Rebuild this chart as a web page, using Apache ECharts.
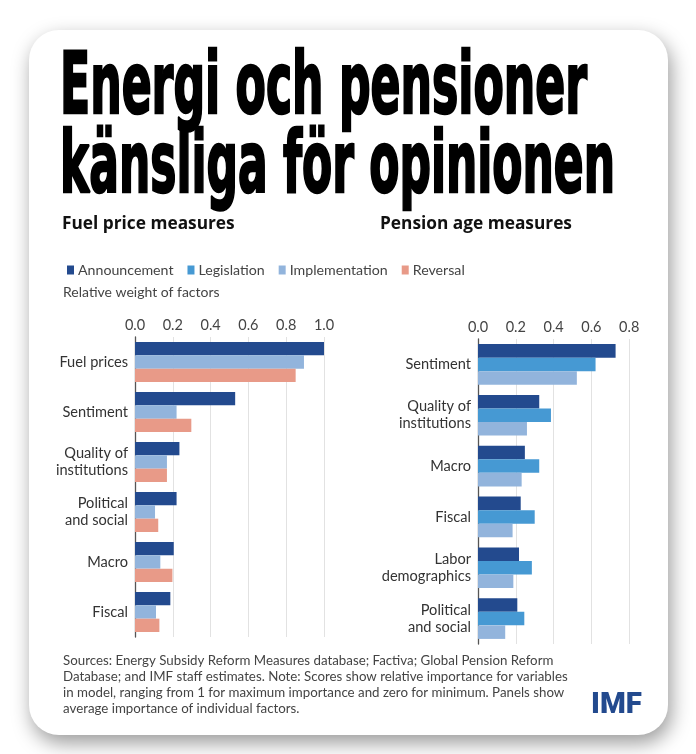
<!DOCTYPE html>
<html>
<head>
<meta charset="utf-8">
<script src="https://cdn.jsdelivr.net/npm/echarts@6/dist/echarts.min.js"></script>
<style>
html,body{margin:0;padding:0;background:#ffffff;}
#chart{width:696px;height:754px;}
</style>
</head>
<body>
<div id="chart"></div>
<script>
// ---- Data ----
const fuelCategories = ['Fuel prices', 'Sentiment', 'Quality of\ninstitutions', 'Political\nand social', 'Macro', 'Fiscal'];
const fuelAnnouncement = [1.00, 0.53, 0.235, 0.22, 0.205, 0.187];
const fuelImplementation = [0.894, 0.22, 0.169, 0.106, 0.134, 0.111];
const fuelReversal = [0.85, 0.298, 0.169, 0.123, 0.198, 0.129];

const pensionCategories = ['Sentiment', 'Quality of\ninstitutions', 'Macro', 'Fiscal', 'Labor\ndemographics', 'Political\nand social'];
const pensionAnnouncement = [0.728, 0.324, 0.248, 0.226, 0.217, 0.208];
const pensionLegislation = [0.622, 0.386, 0.324, 0.30, 0.285, 0.245];
const pensionImplementation = [0.523, 0.259, 0.231, 0.183, 0.187, 0.144];

const legendNames = ['Announcement', 'Legislation', 'Implementation', 'Reversal'];
const fuelTicks = [0, 0.2, 0.4, 0.6, 0.8, 1.0];
const pensionTicks = [0, 0.2, 0.4, 0.6, 0.8];

const titleLines = ['Energi och pensioner', 'känsliga för opinionen'];
const panelTitles = ['Fuel price measures', 'Pension age measures'];
const unitLabel = 'Relative weight of factors';
const footerText = 'Sources: Energy Subsidy Reform Measures database; Factiva; Global Pension Reform\nDatabase; and IMF staff estimates. Note: Scores show relative importance for variables\nin model, ranging from 1 for maximum importance and zero for minimum. Panels show\naverage importance of individual factors.';

// ---- Styles ----
const COLORS = {
  Announcement: '#234a8e',
  Legislation: '#4699d3',
  Implementation: '#92b4dc',
  Reversal: '#e89a88'
};
const TITLE_FONT = "'DejaVu Sans Condensed', 'DejaVu Sans', sans-serif";
const BODY_FONT = "Lato, 'Open Sans', sans-serif";
const HEAD_FONT = "'Open Sans', Lato, sans-serif";

function fitScale(text, fontSize, target) {
  const c = document.createElement('canvas').getContext('2d');
  c.font = 'bold ' + fontSize + 'px ' + TITLE_FONT;
  return target / c.measureText(text).width;
}
const TITLE_SIZE = 86;
const s1 = fitScale(titleLines[0], TITLE_SIZE, 527);
const s2 = fitScale(titleLines[1], TITLE_SIZE, 555);

const chart = echarts.init(document.getElementById('chart'), null, {renderer: 'canvas'});

function bar(name, data, idx) {
  return {
    type: 'bar', name: name, data: data,
    xAxisIndex: idx, yAxisIndex: idx,
    barGap: '0%', barCategoryGap: '20%',
    itemStyle: {color: COLORS[name]},
    emphasis: {disabled: true},
    z: 5
  };
}

const valueAxisCommon = {
  type: 'value', position: 'top', min: 0, interval: 0.2,
  axisLine: {show: false}, axisTick: {show: false},
  splitLine: {show: true, lineStyle: {color: '#e2e2e2', width: 1}},
  axisLabel: {color: '#444', fontSize: 14.5, fontFamily: BODY_FONT, margin: 4,
    formatter: v => v.toFixed(1)}
};
const catAxisCommon = {
  type: 'category', inverse: true,
  axisLine: {show: true, lineStyle: {color: '#555', width: 1.3}},
  axisTick: {show: false},
  axisLabel: {color: '#333', fontSize: 14.6, fontFamily: BODY_FONT, margin: 7, lineHeight: 17, align: 'right'}
};

const option = {
  animation: false,
  backgroundColor: '#ffffff',
  graphic: [
    {type: 'rect', z: -10, shape: {x: 29, y: 30, width: 639, height: 705, r: 30},
      style: {fill: '#ffffff', shadowBlur: 20, shadowColor: 'rgba(0,0,0,0.4)', shadowOffsetX: 3, shadowOffsetY: 8}},
    {type: 'text', x: 60, y: 91, scaleX: s1, style: {text: titleLines[0], font: 'bold ' + TITLE_SIZE + 'px ' + TITLE_FONT,
      fill: '#000', stroke: '#000', lineWidth: 2.5, verticalAlign: 'middle'}},
    {type: 'text', x: 60, y: 170, scaleX: s2, style: {text: titleLines[1], font: 'bold ' + TITLE_SIZE + 'px ' + TITLE_FONT,
      fill: '#000', stroke: '#000', lineWidth: 2.5, verticalAlign: 'middle'}},
    {type: 'text', x: 62, y: 224, style: {text: panelTitles[0], font: 'bold 17.3px ' + HEAD_FONT, fill: '#111', verticalAlign: 'middle'}},
    {type: 'text', x: 380, y: 224, style: {text: panelTitles[1], font: 'bold 17.3px ' + HEAD_FONT, fill: '#111', verticalAlign: 'middle'}},
    {type: 'text', x: 63, y: 292, style: {text: unitLabel, font: '14px ' + BODY_FONT, fill: '#444', verticalAlign: 'middle'}},
    {type: 'text', x: 63, y: 653, style: {text: footerText, font: '13.3px ' + BODY_FONT, fill: '#444', lineHeight: 16, verticalAlign: 'top'}},
    {type: 'text', x: 591, y: 706, style: {text: 'IMF', font: '900 29.5px Roboto, "Liberation Sans", sans-serif', fill: '#234a8e', verticalAlign: 'middle'}}
  ],
  legend: {
    left: 62, top: 258,
    data: legendNames,
    icon: 'rect', itemWidth: 7, itemHeight: 9, itemGap: 14,
    selectedMode: false,
    textStyle: {color: '#444', fontSize: 14.2, fontFamily: BODY_FONT, padding: [0, 0, 0, -1]}
  },
  grid: [
    {left: 135, top: 337, width: 189, height: 300},
    {left: 478, top: 339, width: 151.2, height: 305}
  ],
  xAxis: [
    Object.assign({}, valueAxisCommon, {gridIndex: 0, max: 1.0}),
    Object.assign({}, valueAxisCommon, {gridIndex: 1, max: 0.8})
  ],
  yAxis: [
    Object.assign({}, catAxisCommon, {gridIndex: 0, data: fuelCategories}),
    Object.assign({}, catAxisCommon, {gridIndex: 1, data: pensionCategories})
  ],
  series: [
    bar('Announcement', fuelAnnouncement, 0),
    bar('Implementation', fuelImplementation, 0),
    bar('Reversal', fuelReversal, 0),
    bar('Announcement', pensionAnnouncement, 1),
    bar('Legislation', pensionLegislation, 1),
    bar('Implementation', pensionImplementation, 1)
  ]
};
chart.setOption(option);
</script>
</body>
</html>
